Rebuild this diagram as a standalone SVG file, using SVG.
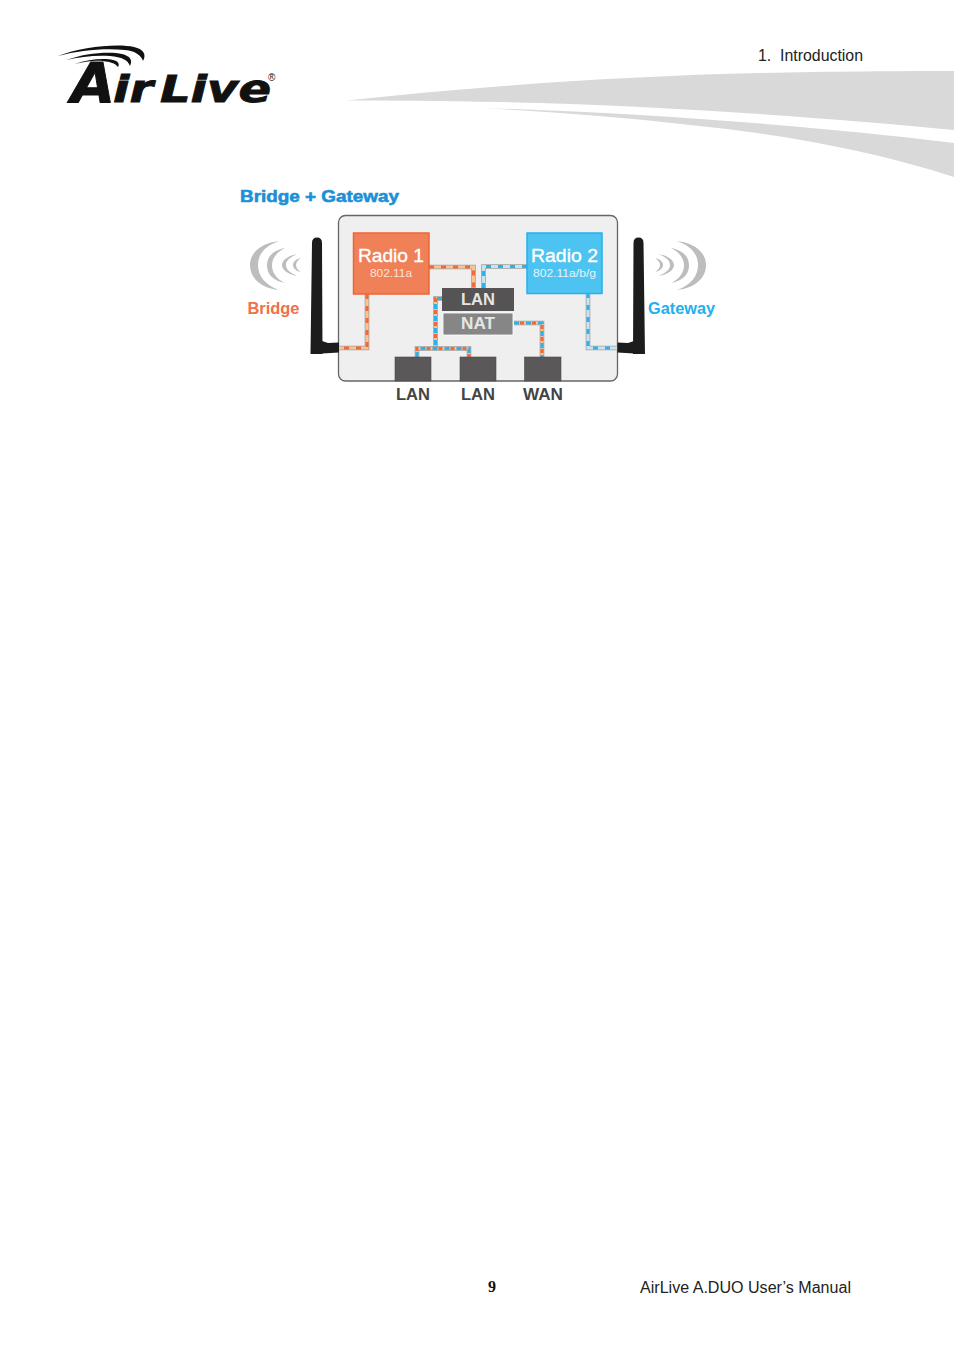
<svg xmlns="http://www.w3.org/2000/svg" width="954" height="1350" viewBox="0 0 954 1350">
<style>
.s{font-family:"Liberation Sans",Arial,sans-serif}
.b{font-family:"Liberation Sans",Arial,sans-serif;font-weight:700}
.box{fill:#5a5858;stroke:#4a4a4a;stroke-width:.6}
.w{fill:none;stroke-linejoin:miter}
.o{stroke:#a0a0a0;stroke-width:4.6}
.po{stroke:#f6c497;stroke-width:3}
.pb{stroke:#c9e4f1;stroke-width:3}
.do{stroke:#ee6a3a;stroke-width:3;stroke-dasharray:5 7}
.db{stroke:#2cb1e8;stroke-width:3;stroke-dasharray:5 7}
.dm{stroke:#ee6a3a;stroke-width:3;stroke-dasharray:4 8;stroke-dashoffset:6}
.ant{fill:#1c1c1c}
.wave{fill:#bdbdbd}
.logo{fill:#111}
.lt{font-family:"DejaVu Sans",sans-serif;font-weight:700;font-style:italic;fill:#111;stroke:#111}
.soft{stroke-width:.35}
</style>
<defs>
<g id="waves">
<path class="wave" d="M279,241 C262,243 250,252 250,265 C250,279 262,288 279,290 C265,285 258,276 258,265 C258,254 265,246 279,241Z"/>
<path class="wave" d="M285,248 C274,250 267,256 267,265.500 C267,275 274,281 285,283 C277,279 272,273 272,265.500 C272,258 277,252 285,248Z"/>
<path class="wave" d="M297,254 C288,256 282,260 282,265 C282,270 288,274 297,276 C291,273 286,270 286,265 C286,260 291,257 297,254Z"/>
<path class="wave" d="M301,258 C296,259 293,262 293,265 C293,268 296,271 301,272 C298,270 296,268 296,265 C296,262 298,260 301,258Z"/>
</g>
</defs>
<rect width="954" height="1350" fill="#fff"/>

<g id="header-band">
<path fill="#d9d9d9" d="M347,100.500 C470,87 620,76 760,73 C830,71.500 900,71 954,71 L954,130 C820,117 650,105 500,102 C440,101 390,100.500 347,100.500Z"/>
<path fill="#d9d9d9" d="M481,108 C620,112 800,124 954,143 L954,177 C870,150 780,134 690,125 C620,117 550,112 481,108Z"/>
</g>

<g id="logo">
<path class="logo" d="M58,56 C80,47 118,43 134,47 C143,49 147,54 143,61 C141,55 135,51 125,50 C105,48 80,50 58,56Z"/>
<path class="logo" d="M66,60 C85,53 110,51 122,54 C130,56 133,60 130,66 C128,60 122,57 110,56 C95,55 80,57 66,60Z"/>
<path class="logo" d="M75,64 C88,59 105,58 113,60 C118,61 120,64 118,67 C115,63 110,62 103,61 C93,60 84,62 75,64Z"/>
<text class="lt" x="71" y="102" font-size="56" textLength="44" lengthAdjust="spacingAndGlyphs" stroke-width="1">A</text>
<text class="lt" x="113" y="102" font-size="38" textLength="40" lengthAdjust="spacingAndGlyphs" stroke-width=".9">ir</text>
<text class="lt" x="160" y="102" font-size="38" textLength="111" lengthAdjust="spacingAndGlyphs" stroke-width=".9">Live</text>
<text x="268" y="81" class="s" font-size="10" fill="#111">®</text>
</g>

<text id="chapter" x="758" y="60.500" class="s" font-size="16" fill="#222" xml:space="preserve" textLength="105" lengthAdjust="spacingAndGlyphs">1.  Introduction</text>
<text id="title" x="240" y="201.500" class="b" font-size="17" fill="#1b90d6" stroke="#1b90d6" stroke-width=".6" textLength="159" lengthAdjust="spacingAndGlyphs">Bridge + Gateway</text>

<g id="router-panel"><rect x="338.500" y="215.500" width="279" height="165.500" rx="7" fill="#efefef" stroke="#666" stroke-width="1.300"/></g>

<g id="connectors">
<path class="w o" d="M367,294V348H339"/><path class="w po" d="M367,294V348H339"/><path class="w do" d="M367,294V348H339"/>
<path class="w o" d="M429,267H473.500V288"/><path class="w po" d="M429,267H473.500V288"/><path class="w do" d="M429,267H473.500V288"/>
<path class="w o" d="M527,266.500H483.500V288"/><path class="w pb" d="M527,266.500H483.500V288"/><path class="w db" d="M527,266.500H483.500V288"/>
<path class="w o" d="M442,298.500H435.500V348"/><path class="w po" d="M442,298.500H435.500V348"/><path class="w db" d="M442,298.500H435.500V348"/><path class="w dm" d="M442,298.500H435.500V348"/>
<path class="w o" d="M417,357V348.500H469V357"/><path class="w po" d="M417,357V348.500H469V357"/><path class="w db" d="M417,357V348.500H469V357"/><path class="w dm" d="M417,357V348.500H469V357"/>
<path class="w o" d="M514,323H542V357"/><path class="w po" d="M514,323H542V357"/><path class="w db" d="M514,323H542V357"/><path class="w dm" d="M514,323H542V357"/>
<path class="w o" d="M588,293V348H617"/><path class="w pb" d="M588,293V348H617"/><path class="w db" d="M588,293V348H617"/>
</g>

<g id="radio-1"><rect x="353.500" y="233" width="75.500" height="61" fill="#f08058" stroke="#ef6436" stroke-width="1.500"/>
<text x="358" y="262" class="s soft" font-size="19" fill="#fff" stroke="#fff" textLength="66" lengthAdjust="spacingAndGlyphs">Radio 1</text>
<text x="370" y="276.500" class="s" font-size="11" fill="#fde3d8" textLength="42" lengthAdjust="spacingAndGlyphs">802.11a</text></g>

<g id="radio-2"><rect x="527" y="233" width="75" height="60.500" fill="#4dc3f1" stroke="#25b0ee" stroke-width="1.500"/>
<text x="531" y="262" class="s soft" font-size="19" fill="#fff" stroke="#fff" textLength="67" lengthAdjust="spacingAndGlyphs">Radio 2</text>
<text x="533" y="276.500" class="s" font-size="11" fill="#e3f5fc" textLength="63" lengthAdjust="spacingAndGlyphs">802.11a/b/g</text></g>

<g id="lan-switch"><rect x="442" y="288" width="72" height="23" fill="#555353"/>
<text x="461" y="304.500" class="b" font-size="16" fill="#e6e6e6" textLength="34" lengthAdjust="spacingAndGlyphs">LAN</text></g>
<g id="nat"><rect x="443" y="313" width="70" height="22" fill="#868686" stroke="#fff" stroke-width=".8"/>
<text x="461" y="329" class="b" font-size="16" fill="#e6e6e6" textLength="34" lengthAdjust="spacingAndGlyphs">NAT</text></g>

<g id="port-lan-1"><rect class="box" x="395" y="357" width="36" height="24"/><text x="396" y="399.500" class="b" font-size="16" fill="#444" textLength="34" lengthAdjust="spacingAndGlyphs">LAN</text></g>
<g id="port-lan-2"><rect class="box" x="460" y="357" width="36" height="24"/><text x="461" y="399.500" class="b" font-size="16" fill="#444" textLength="34" lengthAdjust="spacingAndGlyphs">LAN</text></g>
<g id="port-wan"><rect class="box" x="524.500" y="357" width="36.500" height="24"/><text x="523" y="399.500" class="b" font-size="16" fill="#444" textLength="40" lengthAdjust="spacingAndGlyphs">WAN</text></g>

<g id="antenna-left">
<path class="ant" d="M312,243 Q312,237.500 317,237.500 Q322,237.500 322,243 L322.500,354 L310.500,354 Z"/>
<path class="ant" d="M322,341 L328,343 L339,342.500 L339,352.500 L322,353.500 Z"/>
</g>
<g id="antenna-right">
<path class="ant" d="M633.500,243 Q633.500,237.500 638.500,237.500 Q643.500,237.500 643.500,243 L645,354 L633,354 Z"/>
<path class="ant" d="M634,341 L628,343 L617.500,342.500 L617.500,352.500 L634,353.500 Z"/>
</g>

<g id="bridge"><use href="#waves"/>
<text x="247.500" y="314" class="b" font-size="16" fill="#f07048" textLength="52" lengthAdjust="spacingAndGlyphs">Bridge</text></g>
<g id="gateway"><use href="#waves" transform="translate(956 0) scale(-1 1)"/>
<text x="648" y="314" class="b" font-size="16" fill="#22b0ee" textLength="67" lengthAdjust="spacingAndGlyphs">Gateway</text></g>

<text id="page-number" x="488" y="1292" font-family="'Liberation Serif','Times New Roman',serif" font-weight="700" font-size="16" fill="#111">9</text>
<text id="footer" x="640" y="1293" class="s" font-size="16" fill="#222" textLength="211" lengthAdjust="spacingAndGlyphs">AirLive A.DUO User’s Manual</text>
</svg>
